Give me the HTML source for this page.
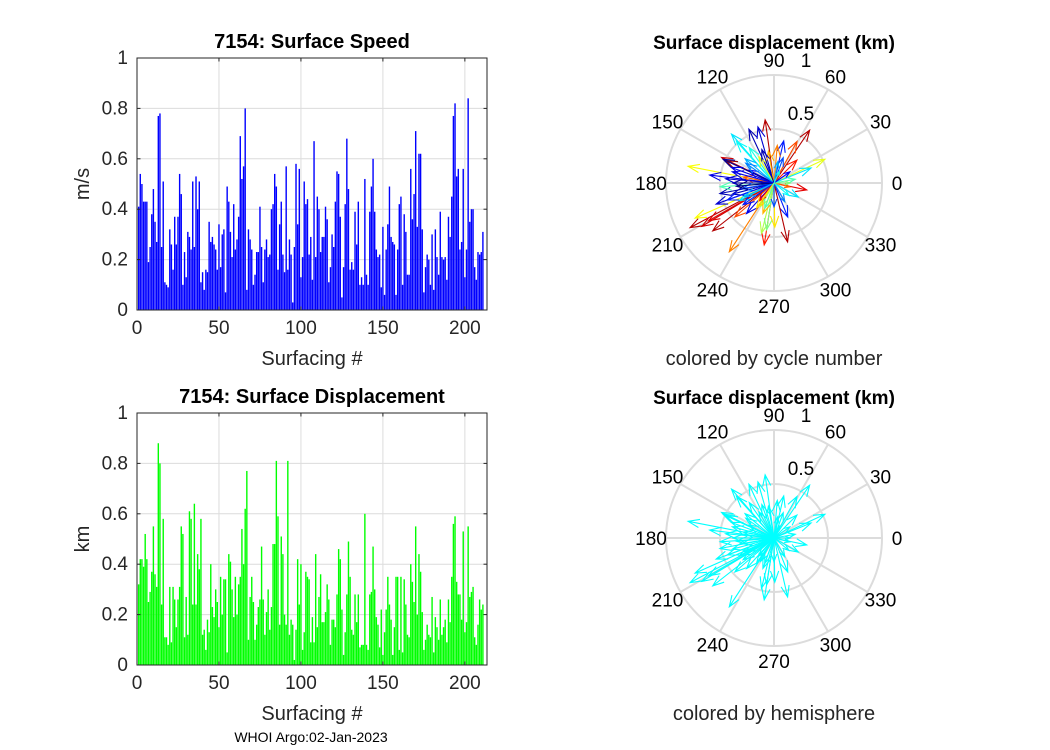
<!DOCTYPE html>
<html><head><meta charset="utf-8">
<style>
body{margin:0;background:#fff;}
svg{display:block;font-family:"Liberation Sans",Arial,sans-serif;}
</style></head>
<body>
<svg id="fig" width="1050" height="750" viewBox="0 0 1050 750" xmlns="http://www.w3.org/2000/svg">
<rect width="1050" height="750" fill="#fff"/>
</svg>
<script>
const speedValues=[.41,.54,.50,.43,.43,.43,.19,.25,.38,.48,.35,.27,.77,.78,.25,.51,.11,.10,.09,.32,.26,.16,.37,.26,.37,.54,.46,.10,.23,.13,.31,.29,.24,.51,.25,.53,.40,.51,.11,.15,.08,.16,.15,.35,.27,.29,.26,.24,.16,.34,.17,.30,.32,.07,.49,.43,.31,.21,.42,.24,.28,.37,.69,.52,.57,.80,.08,.32,.28,.24,.10,.14,.23,.23,.41,.25,.11,.24,.28,.21,.22,.40,.42,.54,.49,.16,.34,.43,.22,.15,.57,.16,.28,.22,.03,.25,.58,.34,.56,.13,.21,.51,.42,.44,.22,
.29,.12,.67,.21,.45,.40,.23,.29,.29,.41,.36,.11,.17,.30,.25,.43,.55,.54,.37,.05,.17,.42,.68,.48,.16,.19,.16,.39,.26,.43,.10,.13,.10,.52,.14,.10,.39,.49,.60,.39,.24,.21,.22,.09,.33,.06,.24,.34,.49,.29,.27,.26,.06,.24,.42,.45,.10,.38,.31,.14,.14,.56,.36,.46,.71,.33,.62,.62,.32,.07,.17,.22,.20,.10,.30,.08,.32,.21,.14,.39,.21,.20,.21,.12,.37,.29,.45,.77,.82,.53,.56,.24,.27,.56,.13,.24,.84,.35,.40,.40,.17,.12,.23,.22,.23,.31];
const dispValues=[.32,.42,.42,.39,.52,.42,.25,.29,.37,.55,.36,.31,.88,.80,.24,.58,.11,.11,.08,.31,.09,.31,.26,.15,.26,.31,.55,.52,.11,.27,.12,.61,.58,.24,.64,.24,.44,.38,.58,.12,.14,.06,.18,.13,.40,.23,.19,.30,.25,.15,.35,.20,.34,.34,.05,.44,.41,.30,.19,.35,.20,.32,.35,.54,.40,.62,.77,.10,.27,.35,.25,.10,.16,.23,.26,.47,.26,.12,.21,.30,.14,.23,.48,.48,.81,.59,.16,.51,.44,.20,.16,.81,.12,.18,.16,.02,.14,.42,.24,.40,.06,.13,.37,.35,.34,.09,
.19,.09,.44,.15,.27,.36,.17,.17,.21,.32,.26,.08,.18,.18,.15,.28,.46,.42,.22,.04,.13,.28,.49,.35,.14,.12,.28,.17,.28,.07,.08,.08,.60,.08,.06,.28,.29,.47,.30,.19,.16,.07,.22,.04,.13,.22,.35,.24,.18,.04,.15,.35,.35,.06,
.35,.05,.34,.24,.12,.11,.40,.33,.25,.55,.20,.44,.37,.21,.06,.10,.16,.12,.11,.27,.05,.19,.15,.10,.26,.12,.15,.18,.09,.26,.17,.35,.56,.59,.33,.28,.28,.18,.53,.13,.17,.55,.27,.29,.31,.11,.08,.16,.26,.22,.24];
const xTicks=[0,50,100,150,200];
const yTicks=[0,0.2,0.4,0.6,0.8,1];
const yTickLabels=["0","0.2","0.4","0.6","0.8","1"];
// polar arrows: angle (deg), magnitude (km), cycle fraction (0..1, for colour)
const arrowAngle=[98,115,106,131,132,56,61,77,85,25,22,154,169,348,330,292,283,261,256,237,208,204,211,210,218,221,173,200,191,184,207,228,261,271,155,169,153,155,346,140,125,100,70,45,10,195,215,240,250,300,320,160,180,190,230,120,80,35,0,270,175,200,145,110,65,205,185,165,235,250];
const arrowMag=[.59,.55,.54,.60,.52,.59,.44,.40,.35,.52,.37,.54,.81,.31,.26,.34,.56,.58,.48,.76,.88,.80,.78,.70,.72,.48,.60,.57,.51,.50,.36,.38,.44,.41,.49,.29,.26,.52,.15,.35,.40,.30,.25,.30,.20,.40,.35,.25,.30,.20,.18,.42,.38,.30,.22,.28,.20,.18,.15,.22,.45,.46,.32,.33,.12,.30,.35,.40,.28,.25];
const arrowCycle=[.95,.05,.08,.35,.38,.95,.80,.15,.75,.60,.35,.92,.62,.90,.35,.15,.95,.85,.55,.75,.95,.62,.92,.90,.95,.80,.10,.08,.05,.45,.35,.10,.50,.65,.98,.78,.12,.02,.78,.30,.40,.70,.20,.85,.45,.05,.15,.55,.70,.25,.38,.10,.02,.20,.88,.60,.30,.12,.50,.20,.08,.15,.25,.05,.40,.30,.00,.10,.65,.45];

const NS='http://www.w3.org/2000/svg';
const fig=document.getElementById('fig');
function mk(tag,attrs,parent,text){const e=document.createElementNS(NS,tag);for(const k in attrs)e.setAttribute(k,attrs[k]);if(text!==undefined)e.textContent=text;(parent||fig).appendChild(e);return e;}
function jet(t){const r=Math.min(Math.max(Math.min(4*t-1.5,-4*t+4.5),0),1),g=Math.min(Math.max(Math.min(4*t-0.5,-4*t+3.5),0),1),b=Math.min(Math.max(Math.min(4*t+0.5,-4*t+2.5),0),1);return `rgb(${Math.round(r*255)},${Math.round(g*255)},${Math.round(b*255)})`;}

function barChart(top,vals,color,title,ylab,name){
  const L=137,R=487,B=top+252,T=top,xmax=213.5;
  const sx=v=>L+v*(R-L)/xmax, sy=v=>B-v*(B-T);
  const g=mk('g',{});
  
  
  xTicks.forEach(t=>{const l=mk('line',{x1:sx(t),x2:sx(t),y1:T,y2:B,stroke:'#dcdcdc','stroke-width':1},g);});
  yTicks.forEach(t=>{const l=mk('line',{x1:L,x2:R,y1:sy(t),y2:sy(t),stroke:'#dcdcdc','stroke-width':1},g);});
  vals.forEach((v,i)=>{const x=sx(i+1);const r=mk('rect',{x:x-0.7,y:sy(v),width:1.4,height:B-sy(v),fill:color},g);
    
    });
  const box=mk('rect',{x:L,y:T,width:R-L,height:B-T,fill:'none',stroke:'#262626','stroke-width':1},g);
  
  xTicks.forEach(t=>{mk('line',{x1:sx(t),x2:sx(t),y1:B,y2:B-3.5,stroke:'#262626'},g);mk('line',{x1:sx(t),x2:sx(t),y1:T,y2:T+3.5,stroke:'#262626'},g);
    const tx=mk('text',{x:sx(t),y:B+24,'font-size':19,'text-anchor':'middle',fill:'#262626'},g,String(t));});
  yTicks.forEach((t,i)=>{mk('line',{x1:L,x2:L+3.5,y1:sy(t),y2:sy(t),stroke:'#262626'},g);mk('line',{x1:R,x2:R-3.5,y1:sy(t),y2:sy(t),stroke:'#262626'},g);
    const tx=mk('text',{x:L-9,y:sy(t)+6,'font-size':19,'text-anchor':'end',fill:'#262626'},g,yTickLabels[i]);});
  const ti=mk('text',{x:(L+R)/2,y:T-10,'font-size':20,'font-weight':'bold','text-anchor':'middle',fill:'#000'},g,title);
  const xl=mk('text',{x:(L+R)/2,y:B+55,'font-size':20,'text-anchor':'middle',fill:'#262626'},g,'Surfacing #');
  const yl=mk('text',{x:0,y:0,'font-size':20,'text-anchor':'middle',fill:'#262626',transform:`translate(89,${(T+B)/2}) rotate(-90)`},g,ylab);
}
barChart(58,speedValues,'#0000ff','7154: Surface Speed','m/s','speed-bar-chart');
barChart(413,dispValues,'#00ff00','7154: Surface Displacement','km','displacement-bar-chart');

function polar(cx,cy,byCycle,caption,name){
  const R=108;
  const g=mk('g',{});
  
  
  [0.5,1].forEach(r=>{const c=mk('circle',{cx:cx,cy:cy,r:r*R,fill:'none',stroke:'#dcdcdc','stroke-width':2},g);});
  for(let a=0;a<360;a+=30){const rad=a*Math.PI/180;
    mk('line',{x1:cx,y1:cy,x2:cx+R*Math.cos(rad),y2:cy-R*Math.sin(rad),stroke:'#dcdcdc','stroke-width':2},g);
    const lr=R+15;const tx=mk('text',{x:cx+lr*Math.cos(rad),y:cy-lr*Math.sin(rad)+7,'font-size':19,'text-anchor':'middle',fill:'#000'},g,String(a));
    }
  const r1=mk('text',{x:cx+27,y:cy-63,'font-size':19,'text-anchor':'middle',fill:'#000'},g,'0.5');
  const r2=mk('text',{x:cx+32,y:cy-116,'font-size':19,'text-anchor':'middle',fill:'#000'},g,'1');
  arrowAngle.forEach((a,i)=>{const rad=a*Math.PI/180,m=arrowMag[i]*R;
    const x2=cx+m*Math.cos(rad),y2=cy-m*Math.sin(rad);const col=byCycle?jet(arrowCycle[i]):'#00ffff';
    const h=Math.min(12,m*0.35);const b1=rad+Math.PI-0.35,b2=rad+Math.PI+0.35;
    const p=mk('path',{d:`M${cx},${cy}L${x2},${y2}M${x2+h*Math.cos(b1)},${y2-h*Math.sin(b1)}L${x2},${y2}L${x2+h*Math.cos(b2)},${y2-h*Math.sin(b2)}`,stroke:col,'stroke-width':1.1,fill:'none'},g);
    
    });
  const ti=mk('text',{x:cx,y:cy-134,'font-size':19,'font-weight':'bold','text-anchor':'middle',fill:'#000'},g,'Surface displacement (km)');
  const cap=mk('text',{x:cx,y:cy+182,'font-size':20,'text-anchor':'middle',fill:'#262626'},g,caption);
}
polar(774,183,true,'colored by cycle number','polar-by-cycle');
polar(774,538,false,'colored by hemisphere','polar-by-hemisphere');
const foot=mk('text',{x:311,y:742,'font-size':14,'text-anchor':'middle',fill:'#000'},fig,'WHOI Argo:02-Jan-2023');


</script>
</body></html>
